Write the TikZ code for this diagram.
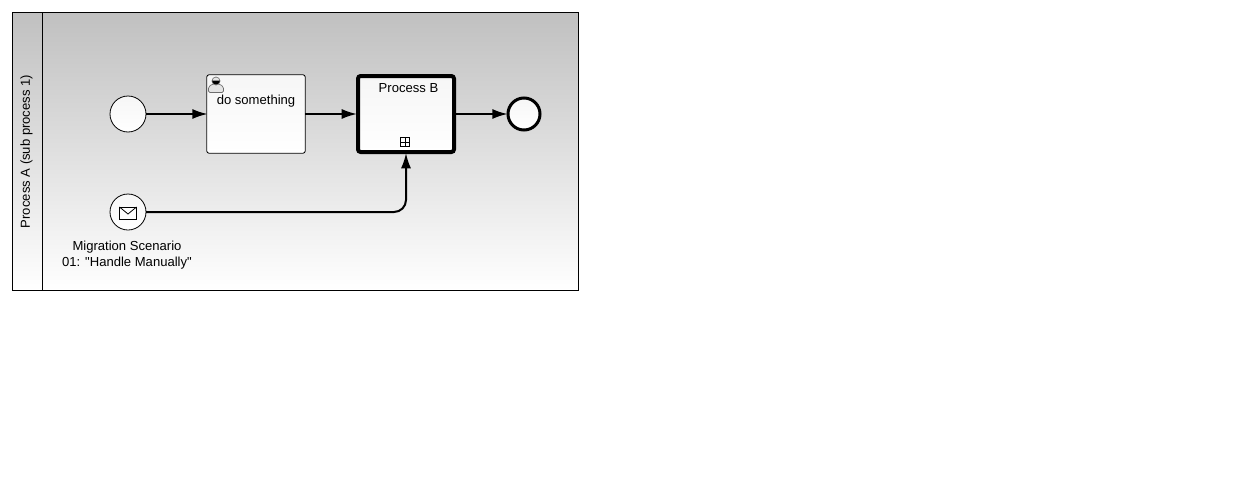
\documentclass[tikz,border=0pt]{standalone}
\usepackage{fontspec}
\setmainfont{Liberation Sans}[Ligatures=TeXOff]
\usetikzlibrary{arrows.meta}
\definecolor{lanegray}{RGB}{192, 192, 192}
\definecolor{shapegray}{RGB}{246, 246, 246}
\definecolor{iconedge}{RGB}{110, 110, 110}
\definecolor{iconfill}{RGB}{228, 228, 228}
\tikzset{
  flow/.style={draw, line width=1.5pt, shorten >=-0.8pt, -{Latex[length=11.5pt, width=7.5pt]}},
  lbl/.style={inner sep=0pt, font=\fontsize{9.8}{12}\selectfont, align=center},
  event/.style={circle, draw, line width=0.6pt, minimum size=27pt, inner sep=0pt, outer sep=0pt, top color=shapegray, bottom color=white},
  endevent/.style={event, line width=2.25pt, minimum size=24pt, outer sep=1pt},
  task/.style={rectangle, draw, line width=0.6pt, rounded corners=2pt, minimum width=74pt, minimum height=59pt, inner sep=0pt, outer sep=0pt, top color=shapegray, bottom color=white},
  subproc/.style={task, line width=3pt, minimum width=72pt, minimum height=57pt, outer sep=1.5pt}
}

\begin{document}
\begin{tikzpicture}[x=0.75pt, y=-0.75pt]
  \useasboundingbox (0,0) rectangle (1247,493);
  \draw[line width=0.75pt, top color=lanegray, bottom color=white] (12.5,12.5) rectangle (578.5,290.5);
  \draw[line width=0.75pt] (42.5,12.5) -- (42.5,290.5);
  \node[lbl, rotate=90] (lanetext) at (26.5,151.5) {Process A (sub process 1)};

  \node[event] (start) at (128,114) {};
  \node[task] (dotask) at (256,114) {};
  \node[subproc] (procb) at (406,114) {};
  \node[endevent] (stop) at (524,114) {};
  \node[event] (msg) at (128,212) {};

  \node[lbl] (dotext) at (256,101.5) {do something};
  \node[lbl] (btext) at (408.5,88) {Process B};
  \node[lbl, anchor=north] (msgtext) at (127,240.5) {Migration Scenario\\01: "Handle Manually"};

  \draw[flow] (start) -- (dotask);
  \draw[flow] (dotask) -- (procb);
  \draw[flow] (procb) -- (stop);
  \draw[flow, rounded corners=9pt] (msg) -| (procb);

  % user icon
  \draw[iconedge, fill=iconfill, line width=0.5pt, rounded corners=1pt]
    (208.5,92.5) -- (208.5,87) -- (212.5,84) -- (219.5,84) -- (223.5,87) -- (223.5,92.5) -- cycle;
  \draw[iconedge, fill=iconfill, line width=0.5pt] (216,81) circle [radius=4];
  \fill[black] (212,80.5) arc [start angle=180, end angle=0, radius=4] -- cycle;
  % message marker
  \draw[line width=0.75pt, fill=white] (119.5,207) rectangle (136.5,219.5);
  \draw[line width=0.6pt] (119.5,207) -- (128,214) -- (136.5,207);
  % expand marker
  \draw[line width=0.6pt] (400.5,137.5) rectangle (409.5,146.5);
  \draw[line width=0.6pt] (405,137.5) -- (405,146.5) (400.5,142) -- (409.5,142);
\end{tikzpicture}
\end{document}
